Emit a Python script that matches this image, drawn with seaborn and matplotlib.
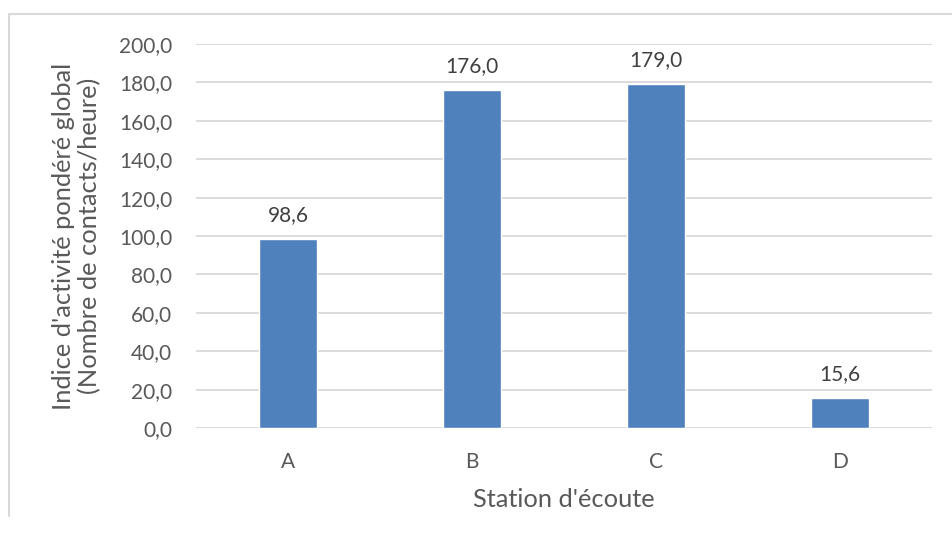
import matplotlib
matplotlib.use("Agg")
import matplotlib.pyplot as plt
import matplotlib.ticker as mticker
import seaborn as sns
import pandas as pd

stations = ["A", "B", "C", "D"]
indices = [98.6, 176.0, 179.0, 15.6]
y_ticks = [0, 20, 40, 60, 80, 100, 120, 140, 160, 180, 200]

sns.set_theme(style="white")
plt.rcParams["font.family"] = ["Lato", "DejaVu Sans"]

df = pd.DataFrame({"station": stations, "indice": indices})


def fr(v):
    return f"{v:.1f}".replace(".", ",")


fig = plt.figure(figsize=(9.52, 5.42), dpi=100)
ax = fig.add_axes([196 / 952, 1 - 428 / 542, 736 / 952, 384 / 542])

sns.barplot(data=df, x="station", y="indice", color="#4F81BD", width=0.315,
            saturation=1, ax=ax, zorder=3)

ax.set_ylim(0, 200)
ax.set_xlim(-0.5, 3.5)
ax.set_yticks(y_ticks)
ax.yaxis.set_major_formatter(mticker.FuncFormatter(lambda v, p: fr(v)))
ax.grid(axis="y", color="#d9d9d9", linewidth=1.3, zorder=0)
for s in ax.spines.values():
    s.set_visible(False)
ax.tick_params(axis="both", length=0, labelsize=15, colors="#595959")
ax.tick_params(axis="y", pad=17)
ax.tick_params(axis="x", pad=17)

for i, v in enumerate(indices):
    ax.annotate(fr(v), xy=(i, v), xytext=(0, 10), textcoords="offset points",
                ha="center", va="bottom", fontsize=15, color="#404040")

ax.set_xlabel("Station d'écoute", fontsize=18.3, color="#595959", labelpad=12)
ax.set_ylabel("Indice d'activité pondéré global\n(Nombre de contacts/heure)",
              fontsize=18.3, color="#595959", labelpad=13, linespacing=1.12)

# chart frame
fig.add_artist(plt.Line2D([9 / 952, 1], [1 - 14 / 542, 1 - 14 / 542],
                          transform=fig.transFigure, color="#d9d9d9", lw=1.5))
fig.add_artist(plt.Line2D([9 / 952, 9 / 952], [1 - 14 / 542, 1 - 516 / 542],
                          transform=fig.transFigure, color="#d9d9d9", lw=1.5))

fig.savefig("out.png", dpi=100, facecolor="white")
